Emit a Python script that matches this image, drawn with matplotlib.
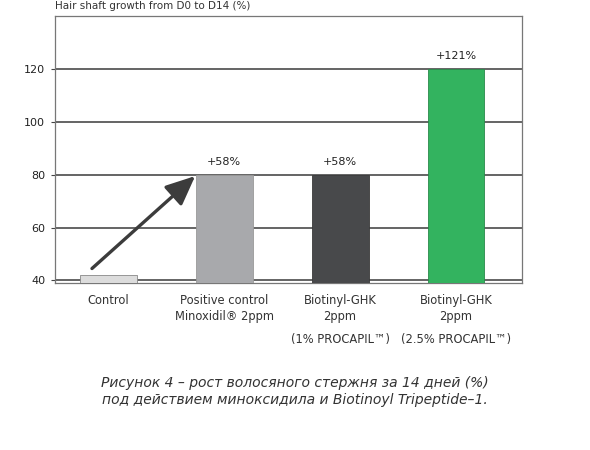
import matplotlib.pyplot as plt

# values
groups = ['Control', 'Positive control\nMinoxidil® 2ppm', 'Biotinyl-GHK\n2ppm', 'Biotinyl-GHK\n2ppm']
growth = [42, 80, 80, 120]
bar_labels = ['', '+58%', '+58%', '+121%']
sub_labels = ['', '', '(1% PROCAPIL™)', '(2.5% PROCAPIL™)']
y_ticks = [40, 60, 80, 100, 120]
colors = ['#dcdcdc', '#a8a9ac', '#48494b', '#33b35f']

fig = plt.figure(figsize=(5.9, 4.5), dpi=100)
ax = fig.add_axes([0.093, 0.371, 0.792, 0.593])

x = range(len(groups))
ax.bar(x, growth, width=0.49, color=colors, edgecolor=['#888888', '#999999', '#3a3a3a', '#2a8a4a'],
       linewidth=0.6, zorder=3)

for i, lab in enumerate(bar_labels):
    if lab:
        ax.text(i, growth[i] + 3, lab, ha='center', va='bottom', fontsize=8, color='#222222')

ax.set_ylim(39, 140)
ax.set_xlim(-0.46, 3.57)
ax.set_yticks(y_ticks)
ax.set_yticklabels([str(v) for v in y_ticks], fontsize=8, color='#222222')
ax.set_xticks(list(x))
ax.set_xticklabels(groups, fontsize=8.3, color='#333333', linespacing=1.25)
ax.tick_params(axis='x', length=0, pad=8)
ax.tick_params(axis='y', length=3, color='#444444', pad=4)
ax.grid(axis='y', color='#3a3a3a', linewidth=1.1, zorder=1)

for s in ['left', 'top', 'right', 'bottom']:
    ax.spines[s].set_color('#777777')
    ax.spines[s].set_linewidth(0.9)

for i, lab in enumerate(sub_labels):
    if lab:
        ax.annotate(lab, xy=(i, 39), xycoords='data', xytext=(0, -41), textcoords='offset points',
                    ha='center', va='center', fontsize=8.3, color='#333333', annotation_clip=False)

# arrow from control to positive control
ax.annotate('', xy=(0.75, 79.5), xytext=(-0.14, 44.5),
            arrowprops=dict(arrowstyle='-|>,head_length=1.8,head_width=0.8', color='#3c3c3c',
                            lw=2.4, shrinkA=0, shrinkB=0), zorder=4)

fig.text(0.093, 0.987, 'Hair shaft growth from D0 to D14 (%)', ha='left', va='center',
         fontsize=7.5, color='#333333')

fig.text(0.5, 0.13, 'Рисунок 4 – рост волосяного стержня за 14 дней (%)\nпод действием миноксидила и Biotinoyl Tripeptide–1.',
         ha='center', va='center', fontsize=10, style='italic', color='#333333', linespacing=1.35)

fig.savefig('out.png', dpi=100, facecolor='white')
